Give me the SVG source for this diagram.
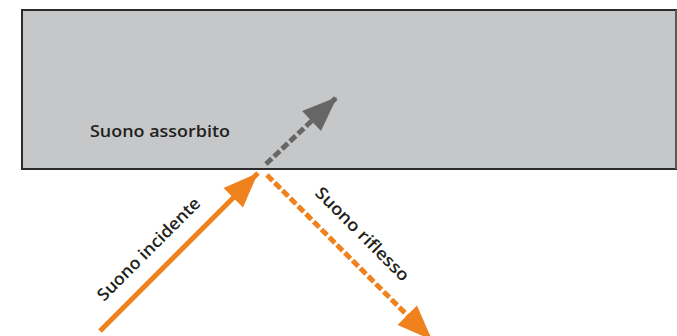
<svg xmlns="http://www.w3.org/2000/svg" width="677" height="336" viewBox="0 0 677 336">
<style>
.lbl{font-family:"Open Sans","Liberation Sans",sans-serif;font-weight:600;font-size:17px;fill:#231f20}
.or{stroke:#f0821e;stroke-width:5;fill:none}
.gr{stroke:#666666;stroke-width:5;fill:none}
.dash{stroke-dasharray:8 3}
</style>
<defs>
<marker id="hO" markerUnits="userSpaceOnUse" markerWidth="40" markerHeight="40" viewBox="-30 -15 32 30" refX="0" refY="0" orient="auto">
<path d="M0,0 L-28,-11 L-28,11 Z" fill="#f0821e"/>
</marker>
<marker id="hG" markerUnits="userSpaceOnUse" markerWidth="40" markerHeight="40" viewBox="-30 -15 32 30" refX="0" refY="0" orient="auto">
<path d="M0,0 L-28,-11 L-28,11 Z" fill="#666666"/>
</marker>
</defs>
<g id="wall">
<rect x="22" y="10" width="654" height="159" fill="#c6c7c9" stroke="#2b2b2b" stroke-width="2"/>
<line x1="676" y1="10" x2="676" y2="169" stroke="#5a5a5a" stroke-width="2"/>
</g>
<g id="connectors">
<line class="or" x1="100" y1="331" x2="258" y2="173" marker-end="url(#hO)"/>
<line class="or dash" x1="267" y1="175" x2="432" y2="340" marker-end="url(#hO)"/>
<line class="gr dash" x1="266" y1="164" x2="337" y2="97" marker-end="url(#hG)"/>
</g>
<g id="labels">
<text class="lbl" x="90" y="137" textLength="140" lengthAdjust="spacingAndGlyphs">Suono assorbito</text>
<text class="lbl" transform="translate(104,302) rotate(-45)" textLength="138" lengthAdjust="spacingAndGlyphs">Suono incidente</text>
<text class="lbl" transform="translate(314,194) rotate(45)" textLength="125" lengthAdjust="spacingAndGlyphs">Suono riflesso</text>
</g>
</svg>
